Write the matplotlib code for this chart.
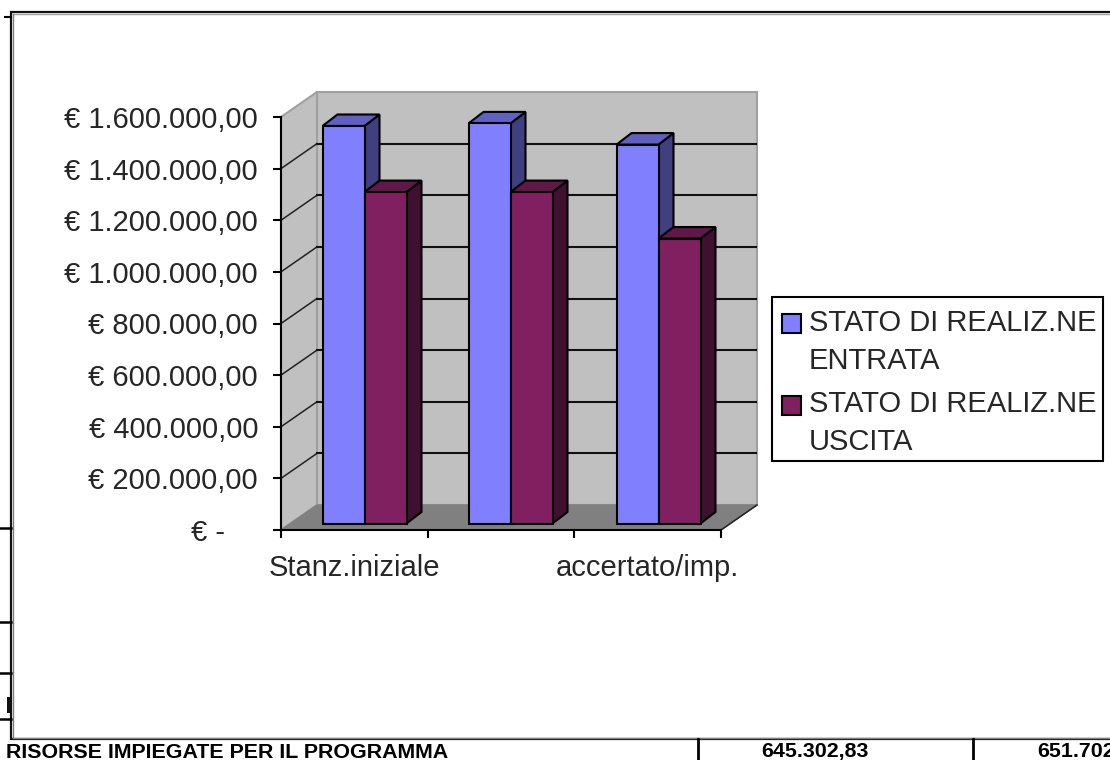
import matplotlib
matplotlib.use('Agg')
import matplotlib.pyplot as plt
from matplotlib.patches import Polygon, Rectangle
from matplotlib.transforms import ScaledTranslation

plt.rcParams['font.family'] = ['Liberation Sans', 'DejaVu Sans']

# data
categories = ['Stanz.iniziale', '', 'accertato/imp.']
entrata = [1540000, 1550000, 1468000]
uscita = [1284000, 1284000, 1104000]
y_ticks = [0, 200000, 400000, 600000, 800000, 1000000, 1200000, 1400000, 1600000]
y_labels = ['€ -', '€ 200.000,00', '€ 400.000,00', '€ 600.000,00', '€ 800.000,00',
            '€ 1.000.000,00', '€ 1.200.000,00', '€ 1.400.000,00', '€ 1.600.000,00']
legend_labels = ['STATO DI REALIZ.NE\nENTRATA', 'STATO DI REALIZ.NE\nUSCITA']
table_row = 'RISORSE IMPIEGATE PER IL PROGRAMMA'
table_vals = ['645.302,83', '651.702,00']

W, H = 1110, 760
BLUE, BLUE_TOP, BLUE_SIDE = '#8080ff', '#6060c0', '#404080'
PLUM, PLUM_TOP, PLUM_SIDE = '#802060', '#601848', '#401030'
TXT = '#262626'
FS = 21

fig = plt.figure(figsize=(W / 100, H / 100), dpi=100)

# page layer in pixels, for the table behind the chart
page = fig.add_axes([0, 0, 1, 1], zorder=0)
page.set_xlim(0, W)
page.set_ylim(H, 0)
page.axis('off')
page.plot([5, 11], [17, 17], color='k', lw=1.5)
for y in [528, 622, 673, 719]:
    page.plot([0, 11], [y, y], color='k', lw=1.8)
page.add_patch(Rectangle((7, 697), 4, 16, color='#111111', lw=0))
page.add_patch(Rectangle((11, 12), W, 727, fc='white', ec='#111111', lw=1.6))
page.plot([12.5, W], [13.5, 13.5], color='#a0a0a0', lw=1)
page.plot([12.5, 12.5], [13.5, 737], color='#808080', lw=1)
page.plot([12.5, W], [737.5, 737.5], color='#808080', lw=1)
page.plot([698, 698], [739, H], color='k', lw=2)
page.plot([973, 973], [739, H], color='k', lw=2)
page.text(6, 752, table_row, fontsize=15.4, fontweight='bold', va='center', ha='left')
page.text(815, 752, table_vals[0], fontsize=15.4, fontweight='bold', va='center', ha='center')
page.text(1037, 752, table_vals[1], fontsize=15.4, fontweight='bold', va='center', ha='left')

# front plane of the 3d chart: x in categories, y in euro
ax = fig.add_axes([281 / W, 1 - 530 / H, 440 / W, 413 / H], zorder=1)
ax.set_xlim(0, 3)
ax.set_ylim(0, 1600000)
ax.patch.set_visible(False)
for s in ['top', 'right']:
    ax.spines[s].set_visible(False)
ax.spines['left'].set_linewidth(1.5)
ax.spines['bottom'].set_linewidth(1.5)

ux = 3 / 440.0      # data per pixel
uy = 1600000 / 413.0


def oblique(x, y, dx, dy):
    return (x + dx * ux, y + dy * uy)


# floor and walls
DX, DY = 36, 25
ax.add_patch(Polygon([oblique(0, 0, DX, DY), oblique(3, 0, DX, DY), oblique(3, 1600000, DX, DY),
                      oblique(0, 1600000, DX, DY)], fc='#c0c0c0', ec='#a0a0a0', lw=1.5, clip_on=False, zorder=1))
ax.add_patch(Polygon([(0, 0), oblique(0, 0, DX, DY), oblique(0, 1600000, DX, DY), (0, 1600000)],
                     fc='#c0c0c0', ec='#a0a0a0', lw=1.5, clip_on=False, zorder=1))
ax.add_patch(Polygon([(0, 0), (3, 0), oblique(3, 0, DX, DY), oblique(0, 0, DX, DY)],
                     fc='#808080', ec='#808080', lw=1, clip_on=False, zorder=1))
for v in y_ticks[1:-1]:
    ax.plot(*zip((0, v), oblique(0, v, DX, DY)), color='#222222', lw=1.1, clip_on=False, zorder=2)
    ax.plot(*zip(oblique(0, v, DX, DY), oblique(3, v, DX - 1, DY)), color='#111111', lw=1.5,
            clip_on=False, zorder=2)
ax.plot(*zip((3, 0), oblique(3, 0, DX, DY)), color='#222222', lw=1.1, clip_on=False, zorder=2)

# bars
BAR_W = 42 / 440.0 * 3
starts = [41.5, 187.5, 335.5]


def bar3d(x, v, w, front, top, side, z):
    base = 6.5
    d1x, d1y = 15, 11.5
    x0, x1 = x, x + w
    ax.add_patch(Polygon([oblique(x1, 0, 0, base), oblique(x1, 0, d1x, base + d1y),
                          oblique(x1, v, d1x, base + d1y), oblique(x1, v, 0, base)],
                         fc=side, ec='k', lw=1.5, clip_on=False, zorder=z))
    ax.add_patch(Polygon([oblique(x0, v, 0, base), oblique(x1, v, 0, base),
                          oblique(x1, v, d1x, base + d1y), oblique(x0, v, d1x, base + d1y)],
                         fc=top, ec='k', lw=1.5, clip_on=False, zorder=z))
    ax.add_patch(Polygon([oblique(x0, 0, 0, base), oblique(x1, 0, 0, base),
                          oblique(x1, v, 0, base), oblique(x0, v, 0, base)],
                         fc=front, ec='k', lw=1.5, clip_on=False, zorder=z))


for i in range(len(categories)):
    x = starts[i] * ux
    bar3d(x, entrata[i], BAR_W, BLUE, BLUE_TOP, BLUE_SIDE, 3 + i * 2)
    bar3d(x + BAR_W, uscita[i], BAR_W, PLUM, PLUM_TOP, PLUM_SIDE, 4 + i * 2)

# ticks
ax.set_yticks(y_ticks)
ax.set_yticklabels(y_labels, fontsize=FS, color=TXT)
ax.set_xticks([0, 1, 2, 3])
ax.set_xticklabels([])
ax.tick_params(axis='both', length=6, width=1.5)
ax.tick_params(axis='y', pad=10.5)
ax.set_xticks([0.5, 1.5, 2.5], minor=True)
ax.set_xticklabels(categories, minor=True, fontsize=FS, color=TXT)
ax.tick_params(axis='x', which='minor', length=0, pad=17)
zero_label = ax.get_yticklabels()[0]
zero_label.set_transform(zero_label.get_transform() + ScaledTranslation(-33 / 100, 0, fig.dpi_scale_trans))

# legend
top = fig.add_axes([0, 0, 1, 1], zorder=2)
top.set_xlim(0, W)
top.set_ylim(H, 0)
top.axis('off')
top.add_patch(Rectangle((772, 297), 331, 164, fc='white', ec='k', lw=1.5))
top.add_patch(Rectangle((782, 314), 19, 19, fc=BLUE, ec='k', lw=1.5))
top.add_patch(Rectangle((782, 396), 19, 19, fc=PLUM, ec='k', lw=1.5))
top.text(809, 342, legend_labels[0], fontsize=FS, color=TXT, va='center', linespacing=1.42)
top.text(809, 423, legend_labels[1], fontsize=FS, color=TXT, va='center', linespacing=1.42)

fig.savefig('out.png', dpi=100)
